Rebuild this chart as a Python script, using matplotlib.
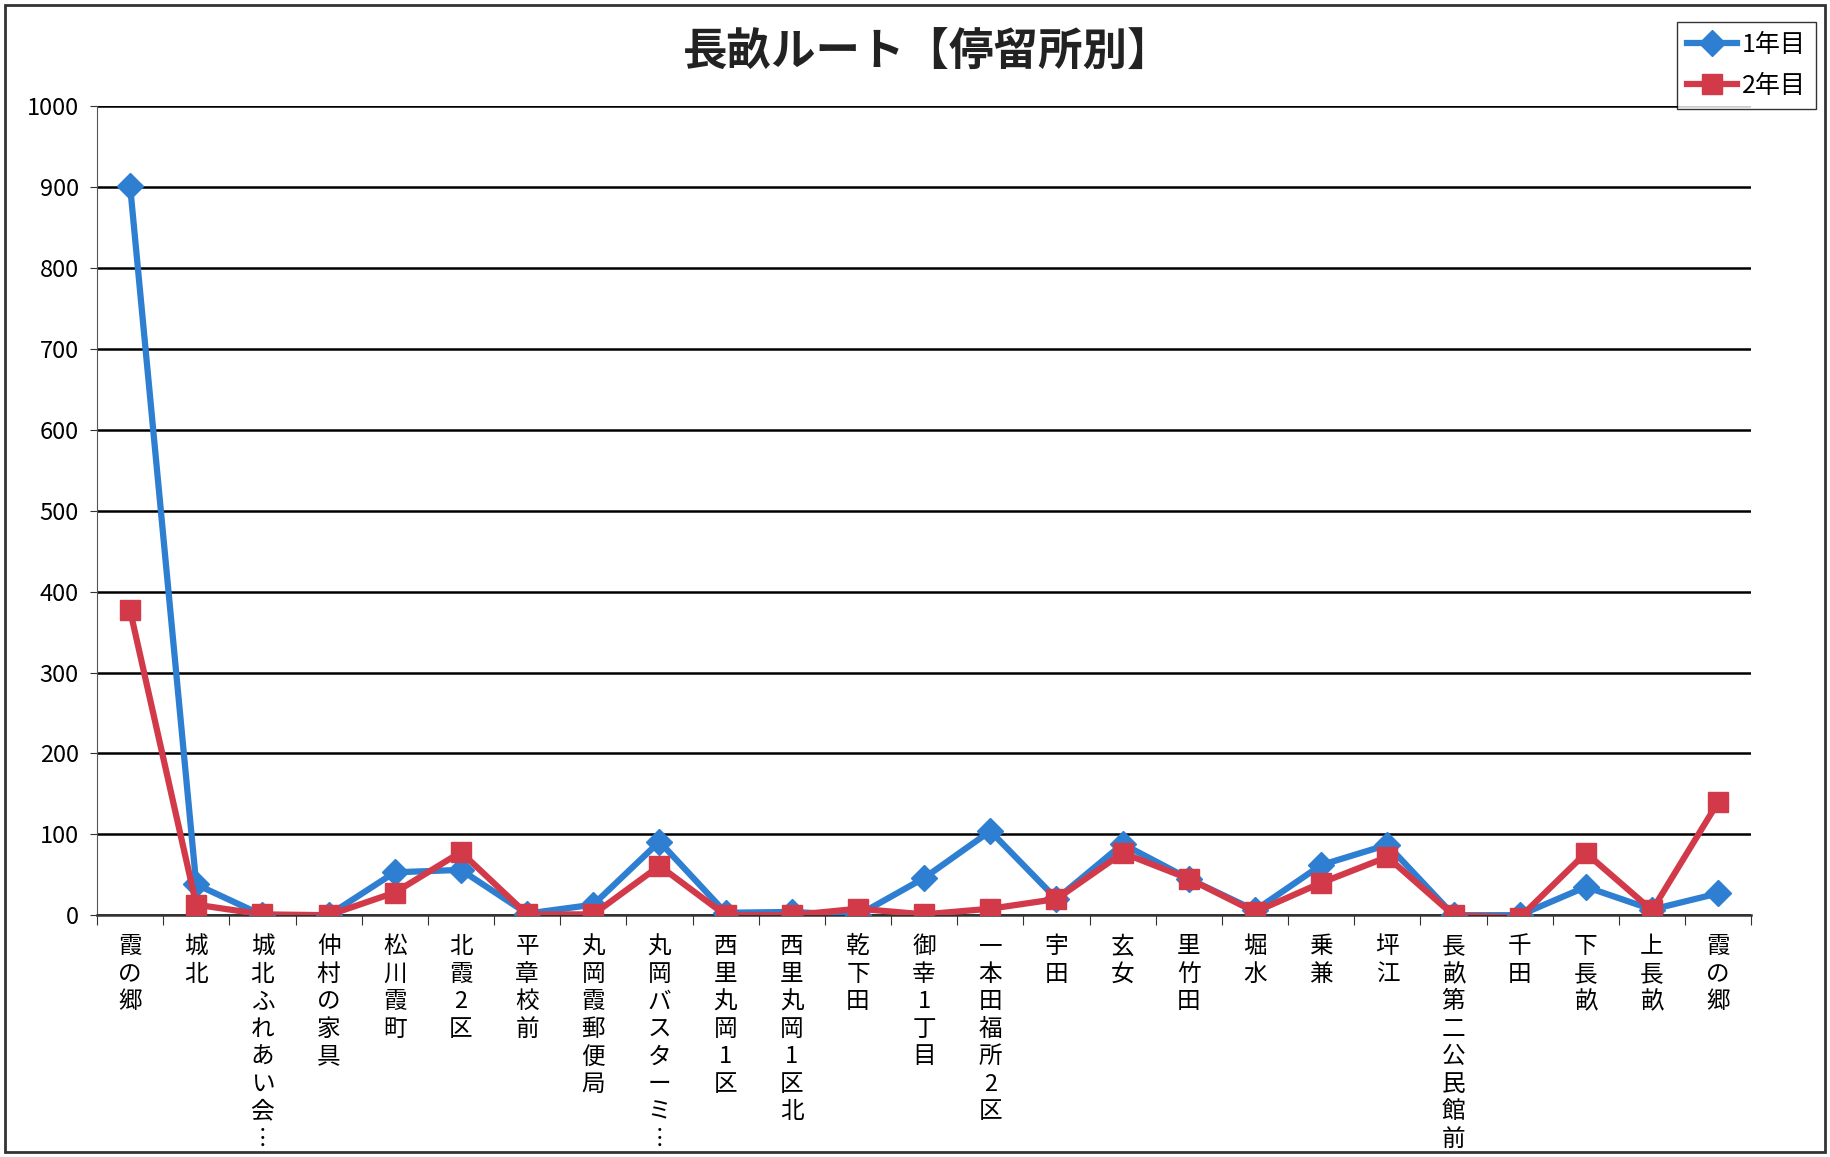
import matplotlib.pyplot as plt
import numpy as np
from matplotlib.patches import Rectangle

plt.rcParams['font.family'] = ['Noto Sans CJK JP', 'DejaVu Sans']

# stops along the route
stops = ['霞の郷', '城北', '城北ふれあい会︙', '仲村の家具', '松川霞町', '北霞2区', '平章校前',
         '丸岡霞郵便局', '丸岡バスターミ︙', '西里丸岡1区', '西里丸岡1区北', '乾下田', '御幸1丁目',
         '一本田福所2区', '宇田', '玄女', '里竹田', '堀水', '乗兼', '坪江', '長畝第二公民館前',
         '千田', '下長畝', '上長畝', '霞の郷']

# riders per stop
year1 = [902, 38, 0, 0, 53, 56, 2, 13, 91, 3, 4, 0, 46, 104, 20, 88, 45, 6, 62, 87, 0, 0, 35, 7, 27]
year2 = [377, 13, 1, 0, 28, 78, 1, 1, 61, 0, 0, 8, 1, 8, 20, 77, 45, 4, 40, 72, 0, -3, 77, 6, 140]

yticks = list(range(0, 1001, 100))

fig = plt.figure(figsize=(18.3, 11.57), dpi=100)
ax = fig.add_axes([0.053, 0.209, 0.904, 0.699])

x = np.arange(len(stops))
ax.plot(x, year1, color='#2e7fd2', lw=4.5, marker='D', ms=13, label='1年目', zorder=3)
ax.plot(x, year2, color='#d23a4a', lw=4.5, marker='s', ms=15, label='2年目', zorder=4)

ax.set_xlim(-0.5, len(stops) - 0.5)
ax.set_ylim(0, 1000)
ax.set_yticks(yticks)
ax.set_yticklabels([str(v) for v in yticks], fontsize=17)
ax.yaxis.grid(True, color='black', lw=1.8)
ax.set_axisbelow(True)

# category ticks sit between the stops, labels written top to bottom
ax.set_xticks(np.arange(len(stops) + 1) - 0.5)
ax.set_xticklabels([])
ax.tick_params(axis='x', direction='out', length=7, color='#333333')
ax.tick_params(axis='y', direction='out', length=5, color='#333333', pad=8)
for i, s in enumerate(stops):
    ax.text(i, -0.025, '\n'.join(s), transform=ax.get_xaxis_transform(), ha='center', va='top',
            fontsize=17, linespacing=1.25)

for side in ['top', 'right']:
    ax.spines[side].set_visible(False)
ax.spines['left'].set_color('#555555')
ax.spines['bottom'].set_color('#333333')
ax.spines['bottom'].set_linewidth(1.8)

fig.text(0.507, 0.954, '長畝ルート【停留所別】', ha='center', va='center', fontsize=32, fontweight='bold',
         color='#222222')

fig.legend(loc='upper right', bbox_to_anchor=(0.999, 0.992), fontsize=18, frameon=True, fancybox=False,
           edgecolor='black', handlelength=2.0, handletextpad=0.2, borderpad=0.4, labelspacing=0.6)

# frame around the whole chart
fig.patches.append(Rectangle((0.003, 0.004), 0.994, 0.992, transform=fig.transFigure, fill=False,
                             edgecolor='#333333', lw=2))

fig.savefig('out.png', dpi=100)
